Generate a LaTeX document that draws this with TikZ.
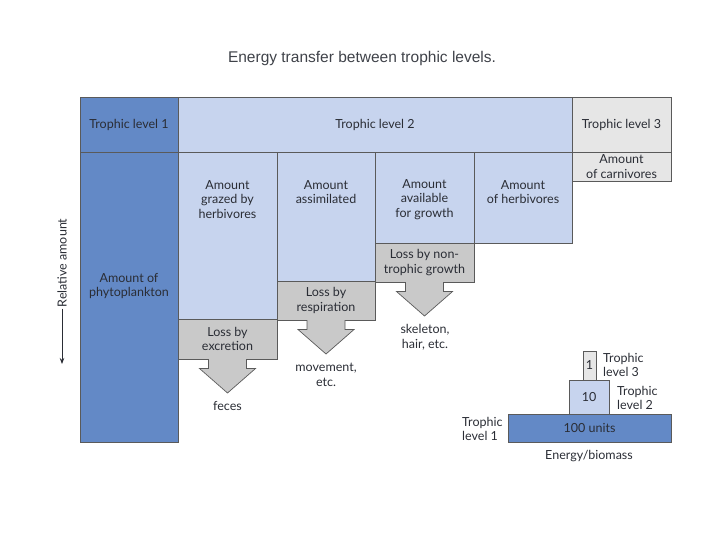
\documentclass[tikz,border=0pt]{standalone}
\usepackage{fontspec}
\setmainfont{Lato}
\newfontfamily\titlefont{Liberation Sans}
\usetikzlibrary{calc,arrows.meta}
\definecolor{tlone}{HTML}{6389C6}
\definecolor{tltwo}{HTML}{C7D4EE}
\definecolor{tlthree}{HTML}{E6E6E6}
\definecolor{lossgray}{HTML}{C9C9C9}
\definecolor{edge}{HTML}{5A5A5A}
\definecolor{ink}{HTML}{2A2D35}
\tikzset{
  cell/.style={draw=edge, line width=0.7pt, inner sep=0pt, outer sep=0pt, align=center, text=ink,
    font=\fontsize{12.5}{14.5}\selectfont},
  txt/.style={inner sep=0pt, align=center, text=ink, font=\fontsize{12.5}{14.5}\selectfont},
  blockarrow/.style={fill=lossgray, draw=edge, line width=0.7pt, line join=miter},
}
\begin{document}
\begin{tikzpicture}[x=1pt,y=-1pt]
\useasboundingbox (0,0) rectangle (720,540);
% title
\node[inner sep=0pt, text=ink!90, font=\titlefont\fontsize{15.5}{17}\selectfont] (title) at (362,58) {Energy transfer between trophic levels.};
% header row
\node[cell, fill=tlone, minimum width=98, minimum height=55] (h1) at (129,124.5) {Trophic level 1};
\node[cell, fill=tltwo, minimum width=394, minimum height=55] (h2) at (375,124.5) {Trophic level 2};
\node[cell, fill=tlthree, minimum width=99, minimum height=55] (h3) at (621.5,124.5) {Trophic level 3};
% trophic level 1 column
\node[cell, fill=tlone, minimum width=98, minimum height=290] (c0) at (129,297) {};
\node[txt] (phyto) at (129,286) {Amount of\\phytoplankton};
% trophic level 2 columns
\node[cell, fill=tltwo, minimum width=99, minimum height=167] (c1) at (227.5,235.5) {};
\node[cell, fill=tltwo, minimum width=98, minimum height=129] (c2) at (326,216.5) {};
\node[cell, fill=tltwo, minimum width=99, minimum height=91] (c3) at (424.5,197.5) {};
\node[cell, fill=tltwo, minimum width=98, minimum height=91] (c4) at (523,197.5) {};
\node[cell, fill=tlthree, minimum width=99, minimum height=29] (carn) at (621.5,166.5) {Amount\\of carnivores};
\node[txt] (t1) at (227.5,199.5) {Amount\\grazed by\\herbivores};
\node[txt] (t2) at (326,192) {Amount\\assimilated};
\node[txt] (t3) at (424.5,199.5) {Amount\\available\\for growth};
\node[txt] (t4) at (523,192) {Amount\\of herbivores};
% loss boxes
\node[cell, fill=lossgray, minimum width=99, minimum height=40] (g1) at (227.5,339) {Loss by\\excretion};
\node[cell, fill=lossgray, minimum width=98, minimum height=39] (g2) at (326,300.5) {Loss by\\respiration};
\node[cell, fill=lossgray, minimum width=99, minimum height=39] (g3) at (424.5,262.5) {Loss by non-\\trophic growth};
% block arrows
\foreach \b in {g1,g2,g3}{
  \filldraw[blockarrow] ($(\b.south)+(-19,0)$) -- ++(0,9.5) -- ++(-9,0) -- ($(\b.south)+(0,34)$)
    -- ($(\b.south)+(28,9.5)$) -- ++(-9,0) -- ($(\b.south)+(19,0)$);
}
\node[txt] (feces) at (227.5,406) {feces};
\node[txt] (move) at (326,375) {movement,\\etc.};
\node[txt] (skel) at (425,337) {skeleton,\\hair, etc.};
% axis
\node[txt, rotate=90] (relamt) at (62,263) {Relative amount};
\coordinate (axisend) at (62,364);
\draw[ink, line width=0.8pt, -{Stealth[length=6pt,width=4.5pt]}] (relamt.west) ++(0,1) -- (axisend);
% pyramid
\node[cell, fill=tlone, minimum width=163, minimum height=28] (p1) at (589.5,428) {100 units};
\node[cell, fill=tltwo, minimum width=40, minimum height=34] (p2) at (589,397) {10};
\node[cell, fill=tlthree, minimum width=13, minimum height=29] (p3) at (589.5,365.5) {1};
\node[txt, anchor=west, align=left] (pl3) at (603,365) {Trophic\\level 3};
\node[txt, anchor=west, align=left] (pl2) at (617,398) {Trophic\\level 2};
\node[txt, anchor=west, align=left] (pl1) at (462,429) {Trophic\\level 1};
\node[txt] (eb) at (589,456) {Energy/biomass};
\end{tikzpicture}
\end{document}
